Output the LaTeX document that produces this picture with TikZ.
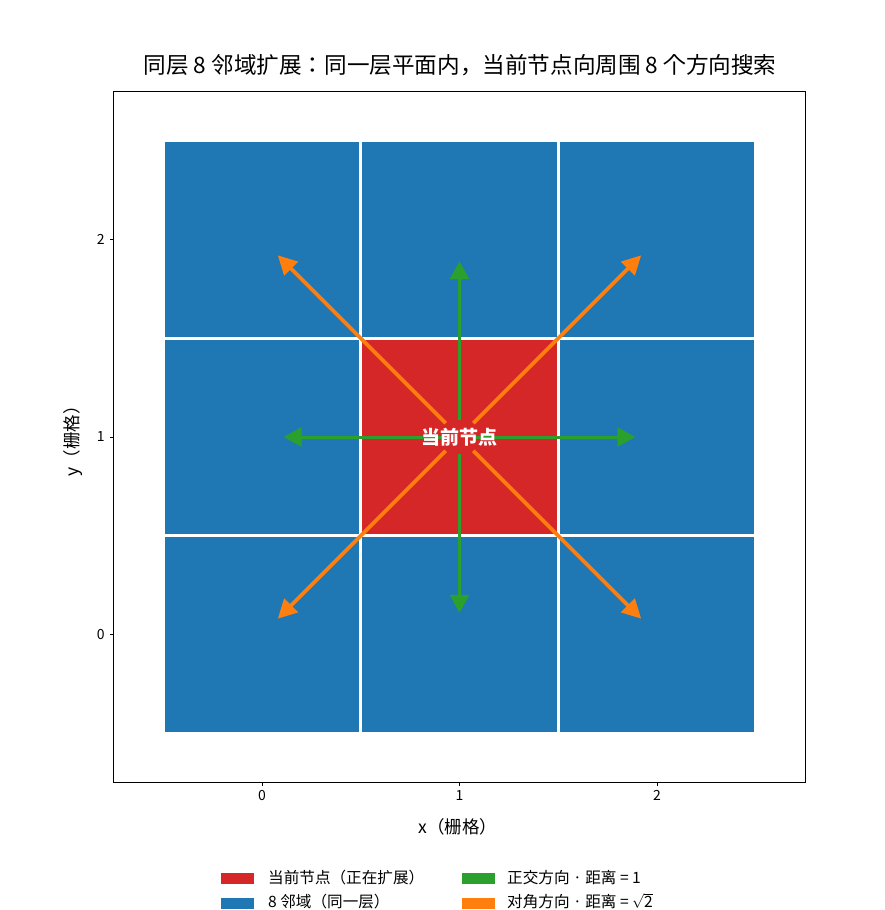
\documentclass[tikz,border=0pt]{standalone}
\usepackage{fontspec}
\setmainfont{Noto Sans CJK JP}
\usetikzlibrary{arrows.meta}
\definecolor{tabblue}{HTML}{1F77B4}
\definecolor{tabred}{HTML}{D62728}
\definecolor{tabgreen}{HTML}{2CA02C}
\definecolor{taborange}{HTML}{FF7F0E}
\begin{document}
\begin{tikzpicture}[x=1pt,y=-1pt,
  cell/.style={draw=white, line width=3pt, fill=tabblue, minimum size=197.5pt, inner sep=0pt, outer sep=0pt},
  garrow/.style={draw=tabgreen, line width=3pt, -{Triangle[length=18pt,width=19pt]}, shorten <=16.8pt},
  oarrow/.style={draw=taborange, line width=3.6pt, -{Triangle[length=19pt,width=19pt]}, shorten <=19.5pt},
  ticklab/.style={font=\fontsize{14}{16}\selectfont, inner sep=0pt},
  legpatch/.style={minimum width=33pt, minimum height=11.5pt, inner sep=0pt},
  legtext/.style={anchor=west, font=\fontsize{15.6}{18}\selectfont, inner sep=0pt, text height=9pt, text depth=1pt}]
\useasboundingbox[fill=white] (0,0) rectangle (884,910);
\node[font=\fontsize{22.6}{26}\selectfont] (title) at (460,65) {同层 8 邻域扩展：同一层平面内，当前节点向周围 8 个方向搜索};
\begin{scope}[shift={(262,634.5)},x=197.5pt,y=197.5pt]
  \node[cell] (c00) at (0,0) {};
  \node[cell] (c10) at (1,0) {};
  \node[cell] (c20) at (2,0) {};
  \node[cell] (c01) at (0,1) {};
  \node[cell, fill=tabred] (cur) at (1,1) {};
  \node[cell] (c21) at (2,1) {};
  \node[cell] (c02) at (0,2) {};
  \node[cell] (c12) at (1,2) {};
  \node[cell] (c22) at (2,2) {};
  \node[draw=black, line width=1pt, minimum size=691.25pt, inner sep=0pt, outer sep=0pt] (axes) at (1,1) {};
  % ticks
  \foreach \t in {0,1,2} {
    \draw[line width=0.8pt] (\t,-0.75) -- ++(0,-3.5pt);
    \node[ticklab, anchor=north] (xt\t) at ([yshift=-8pt]\t,-0.75) {\t};
    \draw[line width=0.8pt] (-0.75,\t) -- ++(-3.5pt,0);
    \node[ticklab, anchor=east] (yt\t) at ([xshift=-9pt]-0.75,\t) {\t};
  }
  % arrow targets
  \coordinate (gN) at (1,1.89);
  \coordinate (gS) at (1,0.11);
  \coordinate (gW) at (0.11,1);
  \coordinate (gE) at (1.89,1);
  \coordinate (oNW) at (0.08,1.92);
  \coordinate (oNE) at (1.92,1.92);
  \coordinate (oSW) at (0.08,0.08);
  \coordinate (oSE) at (1.92,0.08);
\end{scope}
\draw[garrow] (cur.center) -- (gN);
\draw[garrow] (cur.center) -- (gS);
\draw[garrow] (cur.center) -- (gW);
\draw[garrow] (cur.center) -- (gE);
\draw[oarrow] (cur.center) -- (oNW);
\draw[oarrow] (cur.center) -- (oNE);
\draw[oarrow] (cur.center) -- (oSW);
\draw[oarrow] (cur.center) -- (oSE);
\node[text=white, font=\fontsize{19}{22}\selectfont\bfseries] (curlab) at (cur.center) {当前节点};
% axis labels
\node[font=\fontsize{17.5}{20}\selectfont] (xlab) at (458,827) {x（栅格）};
\node[font=\fontsize{17.5}{20}\selectfont, rotate=90] (ylab) at (73,437) {y（栅格）};
% legend
\node[legpatch, fill=tabred] (lp1) at (237.5,878.5) {};
\node[legpatch, fill=tabblue] (lp2) at (237.5,903.5) {};
\node[legpatch, fill=tabgreen] (lp3) at (478,878.5) {};
\node[legpatch, fill=taborange] (lp4) at (478,903.5) {};
\node[legtext] (lt1) at (268,879.5) {当前节点（正在扩展）};
\node[legtext] (lt2) at (268,903.5) {8 邻域（同一层）};
\node[legtext] (lt3) at (507,879.5) {正交方向 · 距离 = 1};
\node[legtext] (lt4) at (507,903.5) {对角方向 · 距离 = $\sqrt{\mbox{2}}$};
\end{tikzpicture}
\end{document}
